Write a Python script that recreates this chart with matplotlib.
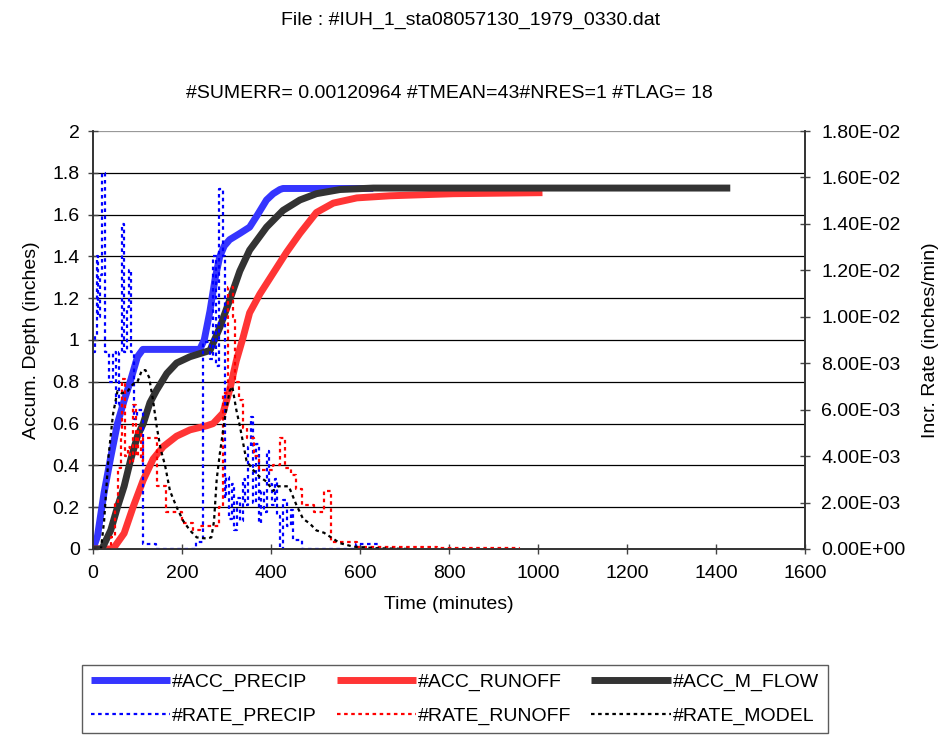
import numpy as np
import matplotlib
matplotlib.use("Agg")
import matplotlib.pyplot as plt
from matplotlib.ticker import FuncFormatter, MultipleLocator

plt.rcParams["font.family"] = ["Liberation Sans", "DejaVu Sans"]
FS = 14

# accumulated depths (inches) vs time (minutes)
acc_precip_t = [0, 10, 25, 40, 55, 70, 85, 100, 112, 240, 250, 263, 275, 285, 295,
                307, 330, 352, 370, 390, 405, 420, 427, 630]
acc_precip = [0, 0.06, 0.27, 0.44, 0.60, 0.71, 0.81, 0.92, 0.955, 0.955, 1.0, 1.14,
              1.30, 1.40, 1.45, 1.48, 1.51, 1.54, 1.60, 1.67, 1.70, 1.72, 1.725, 1.725]

acc_runoff_t = [0, 45, 70, 90, 113, 135, 158, 188, 218, 256, 270, 292, 307, 322, 337,
                352, 375, 405, 435, 465, 502, 540, 593, 667, 810, 1010]
acc_runoff = [0, 0, 0.075, 0.20, 0.33, 0.43, 0.49, 0.54, 0.57, 0.59, 0.60, 0.65, 0.76,
              0.90, 1.01, 1.13, 1.22, 1.32, 1.42, 1.51, 1.61, 1.655, 1.68, 1.69, 1.70, 1.705]

acc_mflow_t = [0, 20, 40, 55, 70, 85, 100, 113, 128, 143, 166, 188, 218, 248, 263, 285,
               307, 330, 352, 390, 427, 465, 502, 555, 630, 1432]
acc_mflow = [0, 0, 0.09, 0.20, 0.30, 0.43, 0.54, 0.60, 0.70, 0.76, 0.84, 0.89, 0.92, 0.94,
             0.95, 1.06, 1.19, 1.33, 1.43, 1.54, 1.62, 1.67, 1.70, 1.72, 1.727, 1.727]

# incremental rates (inches/min), stepped at the listed start times
rate_precip_t = [0, 4, 8, 12, 16, 20, 26, 36, 44, 52, 58, 66, 70, 76, 80, 86, 92, 98,
                 112, 142, 232, 248, 262, 270, 276, 284, 292, 296, 300, 306, 312, 318,
                 324, 330, 336, 342, 348, 354, 360, 366, 372, 378, 384, 390, 396, 402,
                 408, 414, 420, 428, 436, 444, 450, 470, 590, 640]
rate_precip = [0.0085, 0.0092, 0.0126, 0.0100, 0.0118, 0.0162, 0.0085, 0.0072, 0.0085,
               0.0062, 0.0085, 0.0140, 0.0085, 0.0104, 0.0120, 0.0085, 0.0056, 0.0060,
               0.0002, 0.0, 0.0003, 0.0089, 0.0082, 0.0126, 0.0079, 0.0155, 0.0126,
               0.0022, 0.0031, 0.0013, 0.0028, 0.0008, 0.0022, 0.0012, 0.0030, 0.0019,
               0.0044, 0.0057, 0.0020, 0.0045, 0.0011, 0.0025, 0.0016, 0.0042, 0.0028,
               0.0019, 0.0030, 0.0014, 0.0, 0.0021, 0.0010, 0.0017, 0.0004, 0.0, 0.0002, 0.0]

rate_runoff_t = [0, 40, 50, 56, 62, 66, 72, 78, 84, 90, 96, 102, 108, 113, 143, 165, 200,
                 225, 240, 284, 292, 304, 315, 320, 328, 336, 346, 362, 374, 404, 420,
                 432, 445, 456, 470, 496, 519, 534, 593, 773, 957]
rate_runoff = [0, 0.0005, 0.0020, 0.0035, 0.0048, 0.0073, 0.0040, 0.0044, 0.0037,
               0.0062, 0.0040, 0.0052, 0.0038, 0.0048, 0.0027, 0.0016, 0.0011, 0.0008,
               0.0010, 0.0018, 0.0067, 0.0113, 0.0100, 0.0072, 0.0064, 0.0052, 0.0048,
               0.0040, 0.0034, 0.0036, 0.0048, 0.0035, 0.0032, 0.0026, 0.0019, 0.0016,
               0.0025, 0.0003, 0.0001, 0.00005, 0.0]

rate_model_t = [0, 18, 25, 35, 45, 55, 65, 78, 90, 100, 110, 118, 126, 135, 143, 152,
                162, 173, 188, 203, 218, 233, 256, 266, 272, 278, 285, 296, 307, 313,
                322, 330, 345, 360, 375, 390, 405, 416, 440, 457, 472, 487, 502, 519,
                555, 585, 640, 712]
rate_model = [0, 0, 0.0012, 0.0040, 0.0058, 0.0068, 0.0067, 0.0068, 0.0071, 0.0072,
              0.0077, 0.0077, 0.0074, 0.0064, 0.0053, 0.0043, 0.0036, 0.0025, 0.0018,
              0.0012, 0.0008, 0.0005, 0.00045, 0.0005, 0.0012, 0.0030, 0.0041, 0.0056,
              0.0068, 0.0070, 0.0060, 0.0053, 0.0038, 0.0034, 0.0031, 0.0029, 0.0025,
              0.0027, 0.0027, 0.0019, 0.0013, 0.0011, 0.0008, 0.0007, 0.00025, 0.0001,
              0.00003, 0.0]

title = "File : #IUH_1_sta08057130_1979_0330.dat"
subtitle = "#SUMERR= 0.00120964 #TMEAN=43#NRES=1 #TLAG= 18"


fig = plt.figure(figsize=(9.42, 7.36), dpi=100)
ax1 = fig.add_axes([0.0987, 0.2541, 0.7559, 0.5679])
ax2 = ax1.twinx()

# ── gridlines and accumulated curves (left axis) ──
for g in np.arange(0.2, 2.01, 0.2):
    ax1.axhline(g, color="black" if g < 1.99 else "#999999", lw=0.9, zorder=0)

THICK = 5.0
ax1.plot(acc_precip_t, acc_precip, color="#3535ff", lw=THICK, solid_capstyle="butt",
         label="#ACC_PRECIP", zorder=2)
ax1.plot(acc_runoff_t, acc_runoff, color="#ff3535", lw=THICK, solid_capstyle="butt",
         label="#ACC_RUNOFF", zorder=3)
ax1.plot(acc_mflow_t, acc_mflow, color="#333333", lw=THICK, solid_capstyle="butt",
         label="#ACC_M_FLOW", zorder=4)

# ── rate curves (right axis) ──
dots = (0, (1.6, 1.6))
ax2.step(rate_precip_t, rate_precip, where="post", color="#0000ff", lw=1.6,
         linestyle=dots, label="#RATE_PRECIP")
ax2.step(rate_runoff_t, rate_runoff, where="post", color="#ff0000", lw=1.6,
         linestyle=dots, label="#RATE_RUNOFF")
ax2.plot(rate_model_t, rate_model, color="#000000", lw=1.6, linestyle=dots,
         label="#RATE_MODEL")

ax1.set_xlim(0, 1600)
ax1.set_ylim(0, 2)
ax2.set_ylim(0, 0.018)
ax1.xaxis.set_major_locator(MultipleLocator(200))
ax1.yaxis.set_major_locator(MultipleLocator(0.2))
ax2.yaxis.set_major_locator(MultipleLocator(0.002))
ax1.yaxis.set_major_formatter(FuncFormatter(lambda v, p: f"{v:g}"))
ax2.yaxis.set_major_formatter(FuncFormatter(lambda v, p: f"{v:.2E}"))

for ax in (ax1, ax2):
    ax.tick_params(labelsize=FS, direction="inout", length=7, width=1, color="#444444")
    ax.spines["top"].set_visible(False)
    for s in ("left", "right", "bottom"):
        ax.spines[s].set_color("#333333")
        ax.spines[s].set_linewidth(1.2)
ax1.tick_params(axis="x", pad=8)
ax1.tick_params(axis="y", pad=6)
ax2.tick_params(axis="y", pad=8)

ax1.set_xlabel("Time (minutes)", fontsize=FS, labelpad=10)
ax1.set_ylabel("Accum. Depth (inches)", fontsize=FS, labelpad=9)
ax2.set_ylabel("Incr. Rate (inches/min)", fontsize=FS, labelpad=12)

fig.text(0.5, 0.972, title, ha="center", va="center", fontsize=FS)
ax1.set_title(subtitle, fontsize=FS, pad=24)

# legend: accumulated in first row, rates in second row
h1, l1 = ax1.get_legend_handles_labels()
h2, l2 = ax2.get_legend_handles_labels()
handles = [h1[0], h2[0], h1[1], h2[1], h1[2], h2[2]]
labels = [l1[0], l2[0], l1[1], l2[1], l1[2], l2[2]]
leg = fig.legend(handles, labels, ncol=3, loc="upper left",
                 bbox_to_anchor=(0.087, 0.097), fontsize=FS, frameon=True,
                 fancybox=False, handlelength=4.1, handletextpad=0.1,
                 columnspacing=1.0, labelspacing=0.8, borderpad=0.45,
                 borderaxespad=0)
leg.get_frame().set_edgecolor("#333333")
leg.get_frame().set_linewidth(1.0)

fig.savefig("out.png", dpi=100)
